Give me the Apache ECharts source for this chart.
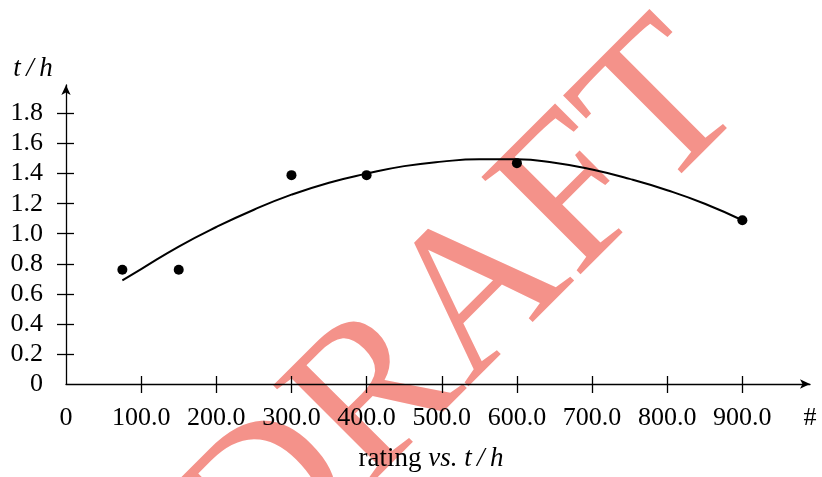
<!DOCTYPE html>
<html>
<head>
<meta charset="utf-8">
<script src="https://cdn.jsdelivr.net/npm/echarts@6/dist/echarts.min.js"></script>
<style>html,body{margin:0;padding:0;background:#fff}#chart{width:822px;height:477px}</style>
</head>
<body>
<div id="chart"></div>
<script>
// Data
const pointX = [75, 150, 300, 400, 600, 900];
const pointY = [0.76, 0.76, 1.39, 1.39, 1.47, 1.09];
const curveX = [75, 100, 150, 200, 250, 300, 350, 400, 450, 500, 550, 600, 650, 700, 750, 800, 850, 900];
const curveY = [0.69, 0.765, 0.915, 1.045, 1.16, 1.26, 1.34, 1.40, 1.45, 1.48, 1.495, 1.495, 1.472, 1.427, 1.365, 1.29, 1.20, 1.09];
const xTickValues = [100, 200, 300, 400, 500, 600, 700, 800, 900];
const xLabelValues = [0, 100, 200, 300, 400, 500, 600, 700, 800, 900, 990];
const yTickValues = [0.2, 0.4, 0.6, 0.8, 1.0, 1.2, 1.4, 1.6, 1.8];
const yLabelValues = [0, 0.2, 0.4, 0.6, 0.8, 1.0, 1.2, 1.4, 1.6, 1.8];
const xMax = 990, yMax = 1.99;
const xEndLabel = '#';
const xTitle = ['rating', 'vs.', 't\u2009/\u2009h'];
const yTitle = 't\u2009/\u2009h';
const watermark = 'DRAFT';

const FONT = '"Liberation Serif", "DejaVu Serif", serif';
const fmtX = v => v === 0 ? '0' : (v >= xMax ? xEndLabel : v.toFixed(1));
const fmtY = v => v === 0 ? '0' : v.toFixed(1);
const lineStyle = { color: '#000', width: 1.3 };
const gridRect = { left: 66, right: 12, top: 85, bottom: 93, containLabel: false };

const chart = echarts.init(document.getElementById('chart'), null, { renderer: 'canvas' });
chart.setOption({
  animation: false,
  backgroundColor: '#fff',
  grid: [Object.assign({}, gridRect), Object.assign({}, gridRect)],
  graphic: [{
    type: 'text', x: 465, y: 311, rotation: Math.PI / 4, z: -10, silent: true,
    style: { text: watermark, font: '212px ' + FONT, fill: '#f4928a', align: 'center', verticalAlign: 'middle' }
  }],
  xAxis: [{
    type: 'value', gridIndex: 0, min: 0, max: xMax, position: 'bottom',
    axisLine: { show: true, onZero: false, lineStyle, symbol: ['none', 'arrow'], symbolSize: [7, 10] },
    axisTick: { show: true, inside: false, length: 9, lineStyle, customValues: xTickValues },
    axisLabel: { show: true, margin: 21, color: '#000', fontFamily: FONT, fontSize: 26, formatter: fmtX, customValues: xLabelValues, showMaxLabel: true, showMinLabel: true },
    splitLine: { show: false },
    name: '{r|' + xTitle[0] + '} {i|' + xTitle[1] + '} {i|' + xTitle[2] + '}',
    nameLocation: 'middle', nameGap: 61,
    nameTextStyle: { color: '#000', fontFamily: FONT, fontSize: 27, padding: [0, 14, 0, 0],
      rich: { r: { fontFamily: FONT, fontSize: 27, color: '#000' }, i: { fontFamily: FONT, fontStyle: 'italic', fontSize: 27, color: '#000' } } }
  }, {
    type: 'value', gridIndex: 1, min: 0, max: xMax, position: 'bottom',
    axisLine: { show: false, onZero: false },
    axisTick: { show: true, inside: true, length: 8, lineStyle, customValues: xTickValues },
    axisLabel: { show: false }, splitLine: { show: false }
  }],
  yAxis: [{
    type: 'value', gridIndex: 0, min: 0, max: yMax, position: 'left',
    axisLine: { show: true, onZero: false, lineStyle, symbol: ['none', 'arrow'], symbolSize: [7, 10] },
    axisTick: { show: true, inside: false, length: 9, lineStyle, customValues: yTickValues },
    axisLabel: { show: true, margin: 23, color: '#000', fontFamily: FONT, fontSize: 26, formatter: fmtY, customValues: yLabelValues },
    splitLine: { show: false },
    name: yTitle, nameLocation: 'end', nameGap: 3,
    nameTextStyle: { color: '#000', fontFamily: FONT, fontStyle: 'italic', fontSize: 27, padding: [0, 66, 0, 0] }
  }, {
    type: 'value', gridIndex: 1, min: 0, max: yMax, position: 'left',
    axisLine: { show: false, onZero: false },
    axisTick: { show: true, inside: true, length: 8, lineStyle, customValues: yTickValues },
    axisLabel: { show: false }, splitLine: { show: false }
  }],
  series: [{
    type: 'line', xAxisIndex: 0, yAxisIndex: 0, smooth: true, showSymbol: false, symbol: 'none',
    lineStyle: { color: '#000', width: 2 }, z: 3,
    data: curveX.map((x, i) => [x, curveY[i]])
  }, {
    type: 'scatter', xAxisIndex: 0, yAxisIndex: 0, symbol: 'circle', symbolSize: 10,
    itemStyle: { color: '#000', opacity: 1 }, z: 4,
    data: pointX.map((x, i) => [x, pointY[i]])
  }]
});
</script>
</body>
</html>
